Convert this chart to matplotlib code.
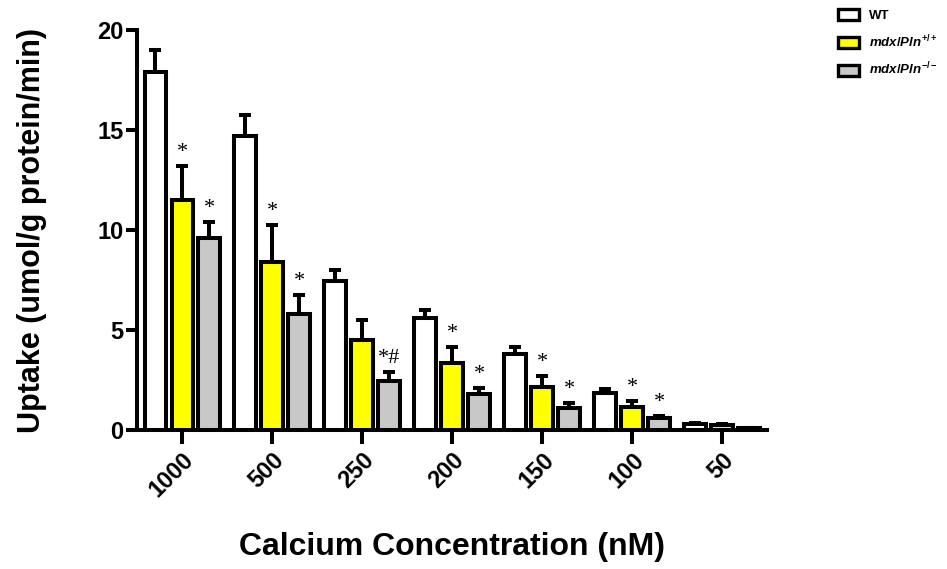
import numpy as np
import matplotlib.pyplot as plt
from matplotlib.patches import Patch

plt.rcParams['font.family'] = ['Liberation Sans', 'DejaVu Sans']
plt.rcParams['mathtext.fontset'] = 'custom'
plt.rcParams['mathtext.it'] = 'Liberation Sans:italic:bold'
plt.rcParams['mathtext.rm'] = 'Liberation Sans:bold'

# data
concentrations = ['1000', '500', '250', '200', '150', '100', '50']
wt = [17.9, 14.7, 7.45, 5.6, 3.8, 1.85, 0.3]
wt_err = [1.1, 1.05, 0.55, 0.4, 0.35, 0.2, 0.05]
mdx_pp = [11.5, 8.4, 4.5, 3.35, 2.15, 1.15, 0.25]
mdx_pp_err = [1.7, 1.85, 1.0, 0.8, 0.55, 0.3, 0.05]
mdx_mm = [9.6, 5.8, 2.45, 1.8, 1.1, 0.6, 0.1]
mdx_mm_err = [0.8, 0.95, 0.45, 0.3, 0.25, 0.1, 0.02]
pp_marks = ['*', '*', '', '*', '*', '*', '']
mm_marks = ['*', '*', '*#', '*', '*', '*', '']

series = [
    (wt, wt_err, 'white', 'WT', None),
    (mdx_pp, mdx_pp_err, '#ffff00', r'$\mathit{mdx/Pln}^{+/+}$', pp_marks),
    (mdx_mm, mdx_mm_err, '#c8c8c8', r'$\mathit{mdx/Pln}^{-/-}$', mm_marks),
]

fig = plt.figure(figsize=(9.47, 5.69), dpi=100)
ax = fig.add_axes([0.145, 0.244, 0.665, 0.703])

lw = 2.9
x = np.arange(len(concentrations))
width = 0.24
offsets = [-0.3, 0.0, 0.3]
handles = []
for (vals, errs, color, label, marks), off in zip(series, offsets):
    ax.bar(x + off, vals, width, color=color, edgecolor='black', linewidth=lw, zorder=3)
    ax.errorbar(x + off, vals, yerr=[np.zeros(len(vals)), errs], fmt='none',
                ecolor='black', elinewidth=lw, capsize=4, capthick=lw, zorder=2)
    handles.append(Patch(facecolor=color, edgecolor='black', linewidth=2.4, label=label))
    if marks:
        for xi, v, e, m in zip(x + off, vals, errs, marks):
            if m:
                ax.text(xi, v + e + 0.2, m, ha='center', va='bottom',
                        fontsize=16, family='Liberation Serif')

ax.set_xlim(-0.5, 6.5)
ax.set_ylim(0, 20)
ax.set_yticks([0, 5, 10, 15, 20])
ax.set_xticks(x)
ax.set_xticklabels(concentrations, rotation=45, ha='right', rotation_mode='anchor',
                   fontsize=17, fontweight='bold')
for lab in ax.get_yticklabels():
    lab.set_fontsize(17)
    lab.set_fontweight('bold')

for side in ['top', 'right']:
    ax.spines[side].set_visible(False)
for side in ['left', 'bottom']:
    ax.spines[side].set_linewidth(lw)
ax.tick_params(axis='both', width=lw, length=8, pad=2)
ax.tick_params(axis='x', length=10, pad=3)

ax.set_ylabel('Uptake (umol/g protein/min)', fontsize=22, fontweight='bold', labelpad=36)
ax.set_xlabel('Calcium Concentration (nM)', fontsize=23, fontweight='bold', labelpad=22)

fig.legend(handles=handles, loc='upper left', bbox_to_anchor=(0.872, 1.005),
           frameon=False, prop={'size': 9.5, 'weight': 'bold'},
           handlelength=1.6, handleheight=0.9, labelspacing=0.85, handletextpad=0.8)

plt.savefig('out.png')
